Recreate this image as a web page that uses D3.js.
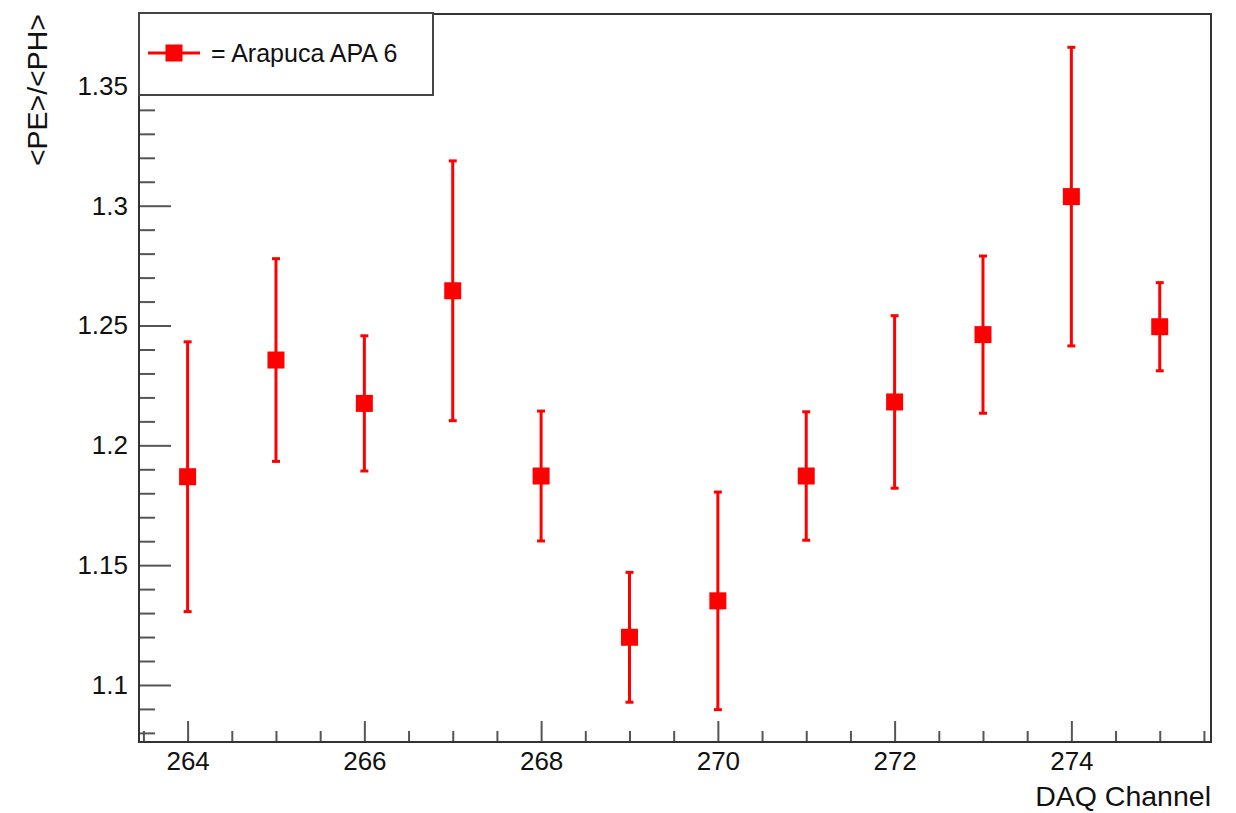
<html>
  <body style="margin:0;background:#fff">
    <script src="https://cdnjs.cloudflare.com/ajax/libs/d3/7.8.5/d3.min.js"></script>
    <div id="chart"></div>
    <script>
      // DAQ channel, <PE>/<PH> ratio and its error
      const channels = [264, 265, 266, 267, 268, 269, 270, 271, 272, 273, 274, 275];
      const ratios = [1.1869, 1.2356, 1.2175, 1.2645, 1.1872, 1.1199, 1.1351, 1.1872, 1.2181, 1.2462, 1.3038, 1.2495];
      const errors = [0.0563, 0.0423, 0.0282, 0.0542, 0.0271, 0.0271, 0.0454, 0.0268, 0.0360, 0.0328, 0.0623, 0.0184];
      const xMajorTicks = [264, 266, 268, 270, 272, 274];
      const yMajorTicks = [1.1, 1.15, 1.2, 1.25, 1.3, 1.35];
      const seriesName = '= Arapuca APA 6';
      const xTitle = 'DAQ Channel';
      const yTitle = '<PE>/<PH>';

      const width = 1236, height = 813;
      const margin = { top: 14, right: 25, bottom: 71, left: 139 };
      const w = width - margin.left - margin.right;
      const h = height - margin.top - margin.bottom;
      const red = '#ff0000';
      const axisColor = '#555';

      const svg = d3.select('#chart').append('svg')
        .attr('width', width)
        .attr('height', height)
        .style('font-family', '"Liberation Sans", Arial, Helvetica, sans-serif');

      const x = d3.scaleLinear().domain([263.45, 275.58]).range([0, w]);
      const y = d3.scaleLinear().domain([1.0762, 1.3800]).range([h, 0]);

      const g = svg.append('g').attr('transform', `translate(${margin.left},${margin.top})`);

      // minor ticks
      const xMinor = d3.range(263.5, 275.51, 0.5).filter(v => !xMajorTicks.includes(v));
      const yMinor = d3.range(1.08, 1.3801, 0.01).map(v => +v.toFixed(2)).filter(v => !yMajorTicks.some(t => Math.abs(t - v) < 1e-6));

      const xMinorAxis = g.append('g').attr('transform', `translate(0,${h})`)
        .call(d3.axisBottom(x).tickValues(xMinor).tickSize(-11).tickFormat(''));
      const xAxis = g.append('g').attr('transform', `translate(0,${h})`)
        .call(d3.axisBottom(x).tickValues(xMajorTicks).tickSize(-21).tickPadding(10).tickFormat(d3.format('d')));
      const yMinorAxis = g.append('g')
        .call(d3.axisLeft(y).tickValues(yMinor).tickSize(-16).tickFormat(''));
      const yAxis = g.append('g')
        .call(d3.axisLeft(y).tickValues(yMajorTicks).tickSize(-32).tickPadding(11).tickFormat(d => String(+d.toFixed(2))));

      [xMinorAxis, xAxis, yMinorAxis, yAxis].forEach(a => {
        a.select('.domain').remove();
        a.selectAll('.tick line').attr('stroke', axisColor).attr('stroke-width', 2);
        a.selectAll('.tick text').attr('fill', '#111').style('font-size', '26px');
      });
      xAxis.selectAll('.tick text').attr('dy', '0.7em');

      // frame
      g.append('rect')
        .attr('width', w).attr('height', h)
        .attr('fill', 'none')
        .attr('stroke', '#333')
        .attr('stroke-width', 2);

      // axis titles
      svg.append('text')
        .attr('x', margin.left + w)
        .attr('y', 806)
        .attr('text-anchor', 'end')
        .attr('fill', '#111')
        .style('font-size', '28.5px')
        .text(xTitle);
      svg.append('text')
        .attr('transform', `translate(47,${margin.top}) rotate(-90)`)
        .attr('text-anchor', 'end')
        .attr('fill', '#111')
        .style('font-size', '28.5px')
        .text(yTitle);

      // error bars
      const pts = channels.map((c, i) => ({ c, v: ratios[i], e: errors[i] }));
      const bars = g.append('g');
      bars.selectAll('line.err')
        .data(pts).join('line')
        .attr('class', 'err')
        .attr('x1', d => x(d.c)).attr('x2', d => x(d.c))
        .attr('y1', d => y(d.v - d.e)).attr('y2', d => y(d.v + d.e))
        .attr('stroke', red).attr('stroke-width', 3);
      ['top', 'bot'].forEach(s => {
        bars.selectAll(`line.cap-${s}`)
          .data(pts).join('line')
          .attr('class', `cap-${s}`)
          .attr('x1', d => x(d.c) - 4).attr('x2', d => x(d.c) + 4)
          .attr('y1', d => y(s === 'top' ? d.v + d.e : d.v - d.e))
          .attr('y2', d => y(s === 'top' ? d.v + d.e : d.v - d.e))
          .attr('stroke', red).attr('stroke-width', 3);
      });
      g.append('g').selectAll('rect')
        .data(pts).join('rect')
        .attr('x', d => x(d.c) - 8.5).attr('y', d => y(d.v) - 8.5)
        .attr('width', 17).attr('height', 17)
        .attr('fill', red);

      // legend
      const lg = svg.append('g');
      lg.append('rect')
        .attr('x', 139).attr('y', 13).attr('width', 294).attr('height', 82)
        .attr('fill', '#fff').attr('stroke', '#444').attr('stroke-width', 2);
      lg.append('line')
        .attr('x1', 148).attr('x2', 200).attr('y1', 53).attr('y2', 53)
        .attr('stroke', red).attr('stroke-width', 3);
      lg.append('rect')
        .attr('x', 165.5).attr('y', 44.5).attr('width', 17).attr('height', 17)
        .attr('fill', red);
      lg.append('text')
        .attr('x', 211).attr('y', 53).attr('dy', '0.35em')
        .attr('fill', '#111')
        .style('font-size', '25px')
        .text(seriesName);
    </script>
  </body>
</html>
